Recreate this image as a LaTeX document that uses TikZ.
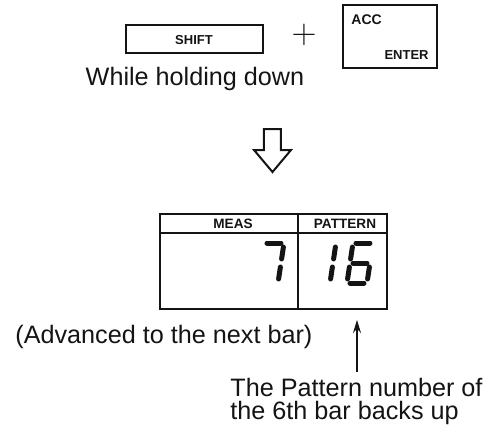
\documentclass[tikz,border=0pt]{standalone}
\usepackage{fontspec}
\setmainfont{Liberation Sans}
\usetikzlibrary{positioning,arrows.meta}
\definecolor{inkBlack}{RGB}{20,20,20}

\begin{document}
\begin{tikzpicture}[x=0.5pt, y=-0.5pt,
  keycap/.style={draw=inkBlack, line width=1pt, inner sep=0pt},
  keylabel/.style={font=\fontsize{6.5}{7}\selectfont\bfseries, text=inkBlack, inner sep=0pt},
  bodytext/.style={font=\fontsize{12.6}{11.6}\selectfont, text=inkBlack, inner sep=0pt},
  segment/.style={line width=2.5pt, line cap=round, draw=inkBlack},
  pointer/.style={-{Stealth[length=6.5pt, width=4pt]}, line width=0.9pt, draw=inkBlack}]
  \useasboundingbox (0,0) rectangle (495,430);
  \node (shiftkey) [keycap, minimum width=68.5pt, minimum height=14pt] at (194.5,39) {};
  \node (shiftlabel) [keylabel] at (194,40) {SHIFT};
  \node (plus) [text=inkBlack, inner sep=0pt, font=\fontsize{17.5}{17.5}\selectfont] at (304,35) {$+$};
  \node (acckey) [keycap, minimum width=47pt, minimum height=31.5pt] at (390,36.5) {};
  \node (acclabel) [keylabel, font=\fontsize{7}{7}\selectfont\bfseries, anchor=west] at (351,20) {ACC};
  \node (enterlabel) [keylabel, anchor=east] at (429,55) {ENTER};
  \node (holding) [bodytext, anchor=base] at (195,85) {While holding down};
  \draw[line width=1pt, draw=inkBlack] (264,129) -- (281,129) -- (281,150) -- (291,150)
    -- (272.5,172) -- (254,150) -- (264,150) -- cycle;
  \node (lcd) [draw=inkBlack, line width=1.1pt, minimum width=113.5pt, minimum height=47.5pt, inner sep=0pt] at (273.5,261.5) {};
  \draw[line width=1.1pt, draw=inkBlack] (lcd.west |- 0,233) -- (lcd.east |- 0,233);
  \draw[line width=0.8pt, draw=inkBlack] (lcd.north -| 298,0) -- (lcd.south -| 298,0);
  \node (measlabel) [keylabel, font=\fontsize{6.8}{7}\selectfont\bfseries] at (233,223.5) {MEAS};
  \node (patternlabel) [keylabel, font=\fontsize{6.8}{7}\selectfont\bfseries] at (345,223.5) {PATTERN};
  \begin{scope}[shift={(258,283)}, xslant=0.15]
    \draw[segment] (3,-40) -- (17,-40);
    \draw[segment] (20,-36) -- (20,-24);
    \draw[segment] (20,-16) -- (20,-4);
  \end{scope}
  \begin{scope}[shift={(310,283)}, xslant=0.15]
    \draw[segment] (20,-36) -- (20,-24);
    \draw[segment] (20,-16) -- (20,-4);
  \end{scope}
  \begin{scope}[shift={(347,283)}, xslant=0.15]
    \draw[segment] (3,-40) -- (17,-40);
    \draw[segment] (0,-36) -- (0,-24);
    \draw[segment] (3,-20) -- (17,-20);
    \draw[segment] (0,-16) -- (0,-4);
    \draw[segment] (20,-16) -- (20,-4);
    \draw[segment] (3,0) -- (17,0);
  \end{scope}
  \node (advanced) [bodytext, anchor=base west] at (15,343) {(Advanced to the next bar)};
  \node (backsup) [bodytext, anchor=north west, align=left] at (230,378) {The Pattern number of\\the 6th bar backs up};
  \coordinate (ptrfoot) at (357,372);
  \coordinate (ptrtip) at (357,320);
  \draw[pointer] (ptrfoot) -- (ptrtip);
\end{tikzpicture}
\end{document}
